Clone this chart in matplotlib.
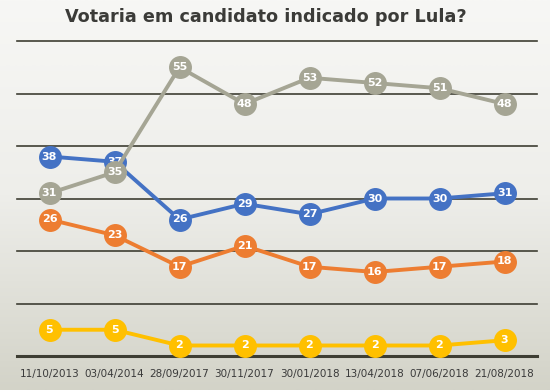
'''Votaria em candidato indicado por Lula? - line chart recreation'''

import numpy as np
import matplotlib.pyplot as plt
from matplotlib.colors import LinearSegmentedColormap

# data
dates = ['11/10/2013', '03/04/2014', '28/09/2017', '30/11/2017',
         '30/01/2018', '13/04/2018', '07/06/2018', '21/08/2018']
blue_vals = [38, 37, 26, 29, 27, 30, 30, 31]
orange_vals = [26, 23, 17, 21, 17, 16, 17, 18]
gray_vals = [31, 35, 55, 48, 53, 52, 51, 48]
yellow_vals = [5, 5, 2, 2, 2, 2, 2, 3]

series = [
    (blue_vals, '#4472C4'),
    (orange_vals, '#ED7D31'),
    (gray_vals, '#A5A594'),
    (yellow_vals, '#FFC000'),
]


def main():
    fig = plt.figure(figsize=(5.5, 3.9), dpi=100)

    # background gradient
    bg = fig.add_axes([0, 0, 1, 1])
    cmap = LinearSegmentedColormap.from_list('bg', ['#F7F7F5', '#EEEEEA', '#D3D3C8'])
    grad = np.linspace(0, 1, 256).reshape(-1, 1)
    bg.imshow(grad, aspect='auto', cmap=cmap, extent=[0, 1, 0, 1])
    bg.set_axis_off()

    ax = fig.add_axes([17 / 550, 34 / 390, 520 / 550, 315 / 390])
    ax.patch.set_alpha(0)
    x = np.arange(len(dates))

    for yv in range(10, 61, 10):
        ax.axhline(yv, color='#3E3E33', lw=1.2, zorder=1, clip_on=False)
    ax.axhline(0, color='#3E3E33', lw=2.2, zorder=1, clip_on=False)

    for i, (vals, col) in enumerate(series):
        z = 3 + i
        ax.plot(x, vals, color=col, lw=2.8, marker='o', ms=15.5,
                mec=col, mfc=col, zorder=z, clip_on=False)
        for xi, v in zip(x, vals):
            ax.text(xi, v, str(v), color='white', fontsize=8, fontweight='bold',
                    ha='center', va='center', zorder=z)

    ax.set_xlim(-0.5, len(dates) - 0.5)
    ax.set_ylim(0, 60)
    ax.set_yticks([])
    ax.set_xticks(x)
    ax.set_xticklabels(dates, fontsize=7.5, color='#3A3A3A')
    ax.tick_params(axis='x', length=0, pad=9)
    for s in ax.spines.values():
        s.set_visible(False)

    fig.text(0.484, 0.956, 'Votaria em candidato indicado por Lula?', ha='center',
             va='center', fontsize=12.7, fontweight='bold', color='#3B3B38')

    fig.savefig('out.png', dpi=100)


if __name__ == "__main__":
    main()
